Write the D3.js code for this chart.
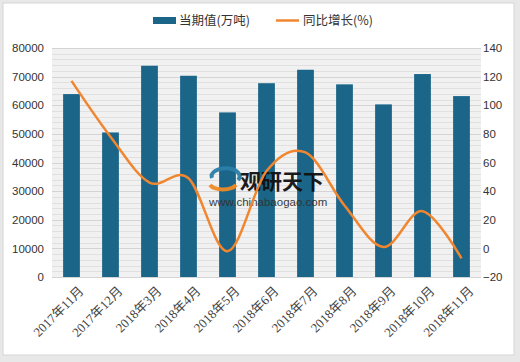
<!DOCTYPE html>
<html><head><meta charset="utf-8">
<script src="https://cdn.jsdelivr.net/npm/d3@7"></script>
<style>
html,body{margin:0;padding:0;background:#e6e6e6;}
svg{display:block;font-family:"Liberation Sans","DejaVu Sans","Noto Sans CJK SC",sans-serif;}
</style></head>
<body>
<script>
const categories = ["2017年11月","2017年12月","2018年3月","2018年4月","2018年5月","2018年6月","2018年7月","2018年8月","2018年9月","2018年10月","2018年11月"];
const volume = [63900, 50500, 73800, 70300, 57500, 67700, 72400, 67300, 60300, 70900, 63200];
const growth = [117, 78, 46, 49, -2, 54, 67, 30, 1, 26, -7];
const leftTicks = [0,10000,20000,30000,40000,50000,60000,70000,80000];
const rightTicks = [-20,0,20,40,60,80,100,120,140];
const seriesNames = ["当期值(万吨)","同比增长(%)"];

const W=520,H=362;
const m={l:52,r:481,t:48,b:277};
const svg=d3.select("body").append("svg").attr("width",W).attr("height",H);
svg.append("rect").attr("x",0).attr("y",0).attr("width",W).attr("height",H).attr("fill","#e8e8e8");
svg.append("rect").attr("x",3).attr("y",3).attr("width",511).attr("height",352).attr("fill","#fff").attr("stroke","#d6d6d6");

const x=d3.scaleBand().domain(categories).range([m.l,m.r]).paddingInner(0.57).paddingOuter(0.285);
const yL=d3.scaleLinear().domain([0,80000]).range([m.b,m.t]);
const yR=d3.scaleLinear().domain([-20,140]).range([m.b,m.t]);

// plot background stripes
svg.append("rect").attr("x",m.l).attr("y",m.t).attr("width",m.r-m.l).attr("height",m.b-m.t).attr("fill","#f1f1f1");
const minor=d3.range(0,80001,2000);
svg.append("g").selectAll("line").data(minor).join("line")
  .attr("x1",m.l).attr("x2",m.r).attr("y1",d=>Math.round(yL(d))+0.5).attr("y2",d=>Math.round(yL(d))+0.5)
  .attr("stroke",d=>d%10000===0?"#d4d4d4":"#e0e0e0").attr("stroke-width",1);

// bars
svg.append("g").selectAll("rect").data(volume).join("rect")
  .attr("x",(d,i)=>x(categories[i])).attr("width",x.bandwidth())
  .attr("y",d=>yL(d)).attr("height",d=>m.b-yL(d)).attr("fill","#1b6589");

// watermark
const wm=svg.append("g").attr("opacity",0.95);
wm.append("path").attr("d","M212,178 a14,8 0 1,1 26,2").attr("fill","none").attr("stroke","#2b7fa8").attr("stroke-width",4);
wm.append("path").attr("d","M210,185 a14,7 0 0,0 26,0").attr("fill","none").attr("stroke","#f08a24").attr("stroke-width",4);
wm.append("text").attr("x",240).attr("y",189).attr("font-size",21).attr("font-weight","bold").attr("fill","#111")
  .attr("font-family","'Noto Sans CJK SC',sans-serif").text("观研天下");
wm.append("text").attr("x",209).attr("y",206).attr("font-size",11.5).attr("fill","#333").text("www.chinabaogao.com");

// line
const line=d3.line().x((d,i)=>x(categories[i])+x.bandwidth()/2).y(d=>yR(d)).curve(d3.curveCardinal.tension(0));
svg.append("path").datum(growth).attr("d",line).attr("fill","none").attr("stroke","#f0862f").attr("stroke-width",2.5);

// axes
const axL=svg.append("g").attr("transform",`translate(${m.l-8},0)`).call(d3.axisLeft(yL).tickValues(leftTicks).tickSize(0).tickPadding(0).tickFormat(d3.format("d")));
const axR=svg.append("g").attr("transform",`translate(${m.r+2},0)`).call(d3.axisRight(yR).tickValues(rightTicks).tickSize(0).tickPadding(0).tickFormat(d=>d<0?"−"+Math.abs(d):d));
[axL,axR].forEach(a=>{a.select(".domain").remove();a.selectAll("text").attr("font-size",11.5).attr("fill","#333").attr("font-family","'Liberation Sans',sans-serif");});

const axB=svg.append("g").attr("transform",`translate(0,${m.b+6})`).call(d3.axisBottom(x).tickSize(0).tickPadding(0));
axB.select(".domain").remove();
axB.selectAll("text").attr("font-size",13).attr("fill","#444").attr("font-family","'Liberation Serif','Noto Sans CJK SC',serif")
  .attr("text-anchor","end").attr("dy","0.75em").attr("dx","0").attr("transform","translate(6,2) rotate(-45)");

// legend
const lg=svg.append("g");
lg.append("rect").attr("x",153).attr("y",17).attr("width",23).attr("height",7).attr("fill","#1b6589");
lg.append("text").attr("x",179).attr("y",25).attr("font-size",12.5).attr("fill","#333").attr("font-family","'Noto Sans CJK SC',sans-serif").text(seriesNames[0]);
lg.append("line").attr("x1",276).attr("x2",299).attr("y1",20.5).attr("y2",20.5).attr("stroke","#f0862f").attr("stroke-width",2.5);
lg.append("text").attr("x",303).attr("y",25).attr("font-size",12.5).attr("fill","#333").attr("font-family","'Noto Sans CJK SC',sans-serif").text(seriesNames[1]);
</script>
</body></html>
